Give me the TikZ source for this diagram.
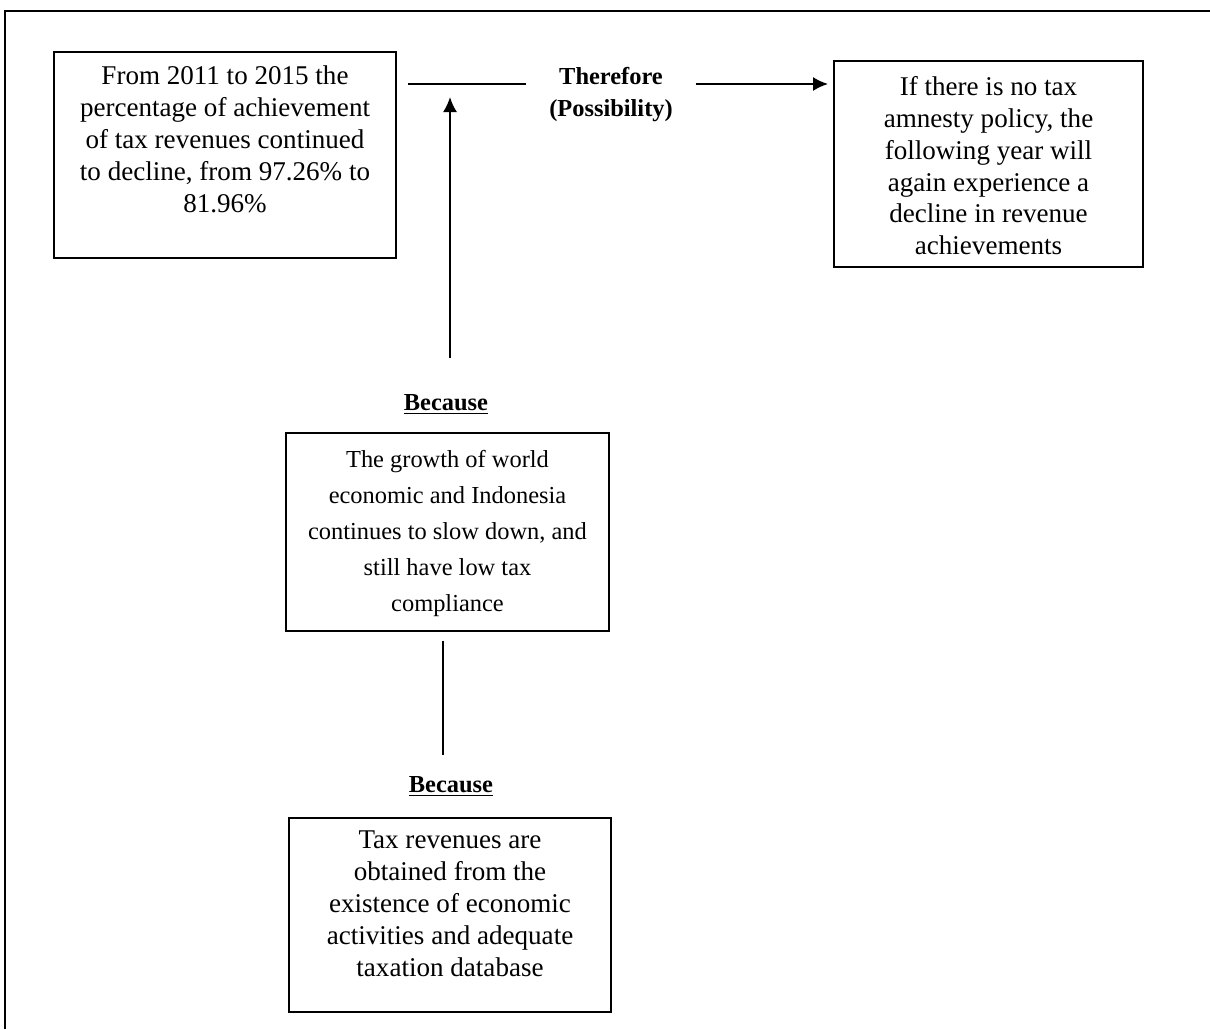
\documentclass[tikz,border=0pt]{standalone}
\usepackage{fontspec}
\setmainfont{Liberation Serif}
\usetikzlibrary{arrows,arrows.meta,positioning,calc}

\tikzset{
  box/.style={draw, line width=1.1pt, inner sep=0pt, font=\fontsize{15.4}{18.2}\selectfont},
  smallbox/.style={box, font=\fontsize{13.9}{20.4}\selectfont},
  tag/.style={inner sep=0pt, align=center, font=\bfseries\fontsize{13.9}{18.2}\selectfont},
  link/.style={line width=1.1pt},
  arrow/.style={link, -{Latex[length=0.3cm,width=0.28cm]}},
}
\newcommand{\boxtext}[4]{\parbox[c][#2][t]{#1}{\centering\vspace*{#3}#4}}

\begin{document}
\begin{tikzpicture}
        \useasboundingbox (0,0) rectangle (24.2,-20.58);
        % outer frame (top and left only)
        \draw[link] (24.2,-0.22) -- (0.1,-0.22) -- (0.1,-20.58);

        \node[box] (decline) at (4.5,-3.1)
          {\boxtext{6.84cm}{4.12cm}{0.27cm}{From 2011 to 2015 the\\ percentage of achievement\\ of tax revenues continued\\ to decline, from 97.26\% to\\ 81.96\%}};
        \node[box] (amnesty) at (19.77,-3.28)
          {\boxtext{6.18cm}{4.12cm}{0.3cm}{If there is no tax\\ amnesty policy, the\\ following year will\\ again experience a\\ decline in revenue\\ achievements}};
        \node[smallbox] (growth) at (8.95,-10.64)
          {\boxtext{6.46cm}{3.96cm}{0.35cm}{The growth of world\\ economic and Indonesia\\ continues to slow down, and\\ still have low tax\\ compliance}};
        \node[box] (database) at (9.0,-18.3)
          {\boxtext{6.44cm}{3.88cm}{0.26cm}{Tax revenues are\\ obtained from the\\ existence of economic\\ activities and adequate\\ taxation database}};

        \node[tag, inner xsep=0.45cm] (therefore) at (12.22,-1.9) {Therefore\\(Possibility)};
        \node[tag] (cause1) at (8.92,-8.08) {\underline{Because}};
        \node[tag] (cause2) at (9.02,-15.72) {\underline{Because}};
        \coordinate (join) at (9.0,-1.68);

        \draw[link] ([xshift=0.22cm]decline.east |- join) -- (therefore.west |- join);
        \draw[arrow] (therefore.east |- join) -- ([xshift=-0.1cm]amnesty.west |- join);
        \draw[arrow] ([yshift=0.72cm]cause1.north -| join) -- ([yshift=-0.26cm]join);
        \draw[link] ([xshift=-0.09cm,yshift=-0.18cm]growth.south) -- ([xshift=-0.16cm,yshift=0.42cm]cause2.north);
      \end{tikzpicture}
\end{document}
